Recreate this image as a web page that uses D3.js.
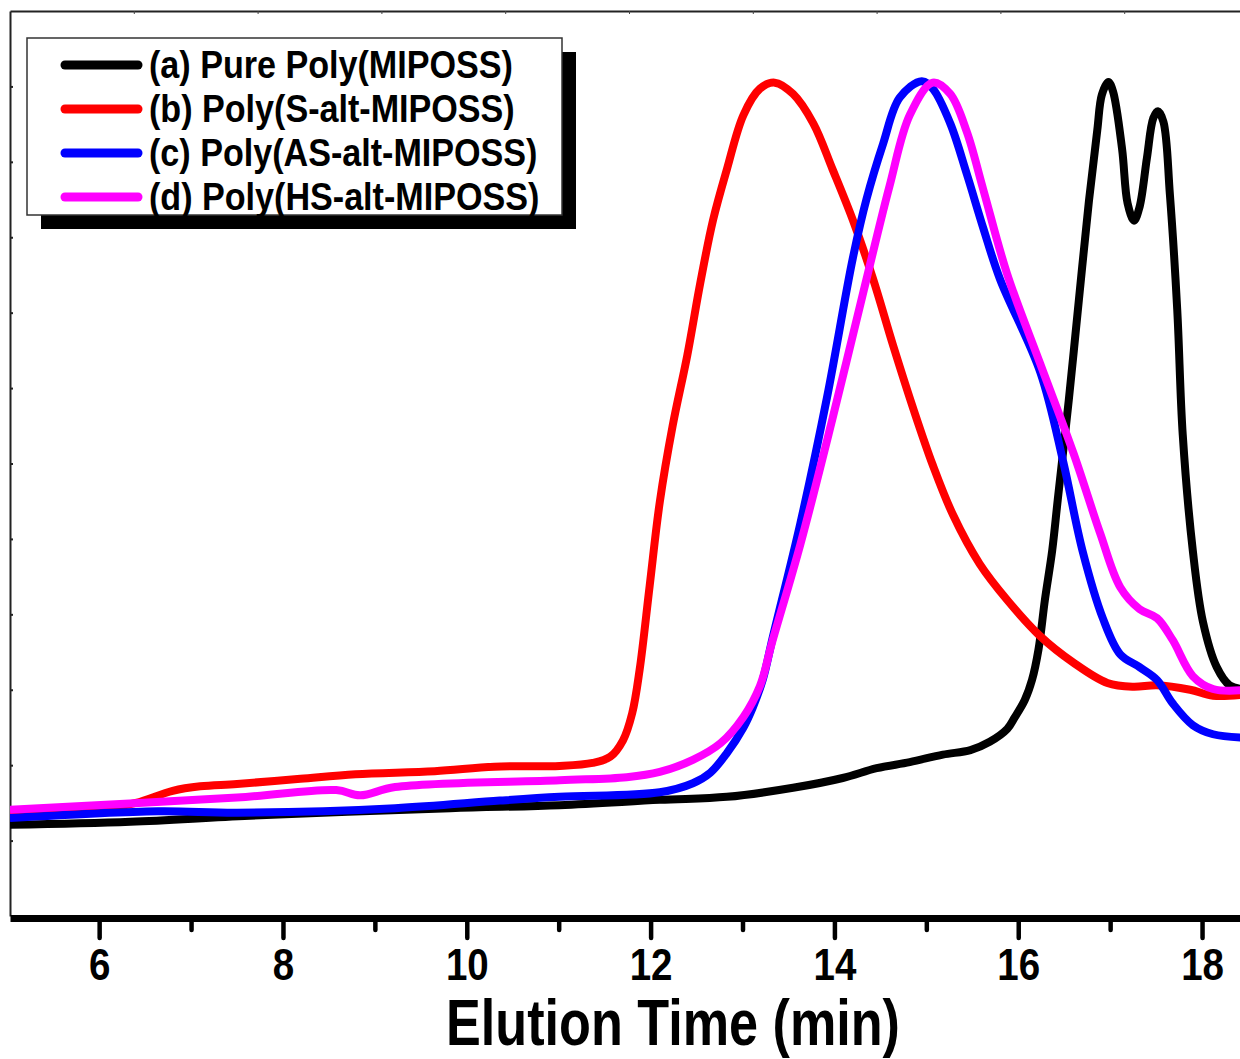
<!DOCTYPE html>
<html>
<head>
<meta charset="utf-8">
<script src="https://cdn.jsdelivr.net/npm/d3@7/dist/d3.min.js"></script>
<style>
  html, body { margin: 0; padding: 0; background: #fff; }
  svg { display: block; }
  text { font-family: "Liberation Sans", Arial, sans-serif; font-weight: bold; fill: #000; }
</style>
</head>
<body>
<div id="chart"></div>
<script>
// GPC traces, elution time (min) vs detector response (a.u.)
const timeA = [5.03, 6.34, 7.64, 9.82, 11.01, 12.10, 12.83, 13.55, 14.09, 14.46, 14.82, 15.18, 15.48, 15.69, 15.88, 15.96, 16.07, 16.15, 16.22, 16.29, 16.37, 16.43, 16.55, 16.66, 16.77, 16.86, 16.91, 16.98, 17.03, 17.13, 17.19, 17.26, 17.32, 17.40, 17.47, 17.52, 17.58, 17.65, 17.73, 17.79, 17.90, 18.01, 18.16, 18.30, 18.50];
const valueA = [1.21, 1.25, 1.33, 1.43, 1.47, 1.54, 1.58, 1.70, 1.83, 1.96, 2.04, 2.14, 2.20, 2.31, 2.48, 2.63, 2.86, 3.13, 3.53, 4.19, 4.85, 5.52, 6.84, 8.17, 9.49, 10.42, 10.89, 11.06, 10.94, 10.17, 9.45, 9.22, 9.40, 10.05, 10.58, 10.67, 10.53, 9.57, 8.04, 6.38, 4.84, 3.90, 3.30, 3.06, 3.00];

const timeB = [5.03, 6.01, 6.40, 6.80, 7.10, 7.50, 8.19, 8.79, 9.65, 10.30, 11.01, 11.37, 11.56, 11.70, 11.80, 11.88, 11.99, 12.10, 12.24, 12.40, 12.54, 12.68, 12.83, 13.01, 13.19, 13.35, 13.55, 13.77, 13.98, 14.20, 14.42, 14.64, 14.86, 15.07, 15.29, 15.58, 15.88, 16.24, 16.60, 16.97, 17.25, 17.51, 17.87, 18.12, 18.50];
const valueB = [1.35, 1.42, 1.50, 1.66, 1.72, 1.75, 1.82, 1.88, 1.92, 1.98, 1.99, 2.03, 2.11, 2.33, 2.69, 3.26, 4.38, 5.49, 6.50, 7.44, 8.39, 9.23, 9.90, 10.62, 10.97, 11.05, 10.90, 10.51, 9.90, 9.23, 8.45, 7.56, 6.72, 5.98, 5.32, 4.67, 4.19, 3.71, 3.36, 3.09, 3.04, 3.06, 3.00, 2.92, 2.94];

const timeC = [5.03, 6.64, 7.50, 9.22, 10.36, 11.01, 12.10, 12.46, 12.65, 12.83, 13.01, 13.11, 13.22, 13.33, 13.63, 13.92, 14.20, 14.35, 14.53, 14.71, 14.95, 15.07, 15.26, 15.44, 15.62, 15.80, 16.24, 16.49, 16.70, 16.92, 17.11, 17.32, 17.51, 17.68, 17.90, 18.12, 18.50];
const valueC = [1.30, 1.39, 1.37, 1.43, 1.53, 1.58, 1.64, 1.76, 1.90, 2.16, 2.50, 2.76, 3.13, 3.70, 5.21, 6.88, 8.72, 9.51, 10.24, 10.85, 11.07, 10.97, 10.51, 9.84, 9.12, 8.45, 7.21, 6.02, 4.84, 3.95, 3.47, 3.30, 3.13, 2.82, 2.53, 2.41, 2.36];

const timeD = [5.03, 7.50, 8.58, 8.84, 9.22, 11.01, 11.74, 12.10, 12.46, 12.76, 13.01, 13.19, 13.32, 13.63, 13.98, 14.35, 14.60, 14.82, 15.07, 15.26, 15.44, 15.62, 15.88, 16.24, 16.60, 16.89, 17.11, 17.32, 17.51, 17.68, 17.90, 18.12, 18.50];
const valueD = [1.41, 1.57, 1.67, 1.60, 1.71, 1.80, 1.84, 1.91, 2.07, 2.29, 2.64, 3.05, 3.62, 4.93, 6.60, 8.45, 9.68, 10.62, 11.05, 10.90, 10.40, 9.63, 8.51, 7.32, 6.14, 5.08, 4.36, 4.07, 3.95, 3.66, 3.18, 3.01, 3.00];

const seriesNames = ['(a) Pure Poly(MIPOSS)', '(b) Poly(S-alt-MIPOSS)', '(c) Poly(AS-alt-MIPOSS)', '(d) Poly(HS-alt-MIPOSS)'];
const majorTicks = [6, 8, 10, 12, 14, 16, 18];
const minorTicks = [7, 9, 11, 13, 15, 17];
const yTicks = [1, 2, 3, 4, 5, 6, 7, 8, 9, 10, 11];

const colors = ['#000000', '#ff0000', '#0000ff', '#ff00ff'];
const squeeze = 0.875;

const width = 1240;
const height = 1059;
const plot = { left: 10, right: 1248, top: 11, bottom: 916 };

const svg = d3.select('#chart')
  .append('svg')
  .attr('width', width)
  .attr('height', height);

const xScale = d3.scaleLinear().domain([5.03, 18.5]).range([plot.left, plot.right]);
const yScale = d3.scaleLinear().domain([0, 12]).range([plot.bottom, plot.top]);

svg.append('clipPath')
  .attr('id', 'plot-clip')
  .append('rect')
  .attr('x', plot.left)
  .attr('y', plot.top)
  .attr('width', plot.right - plot.left)
  .attr('height', plot.bottom - plot.top);

// frame: top + left thin lines with tiny inward ticks
const topScale = d3.scaleLinear().domain([0, 10]).range([plot.left, plot.right]);
svg.append('g')
  .attr('transform', `translate(0,${plot.top})`)
  .call(d3.axisBottom(topScale).tickValues(d3.range(1, 10)).tickSize(3).tickSizeOuter(0).tickFormat(''))
  .call(g => g.select('.domain').attr('stroke', '#222').attr('stroke-width', 2))
  .call(g => g.selectAll('.tick line').attr('stroke', '#444').attr('stroke-width', 1));

svg.append('g')
  .attr('transform', `translate(${plot.left},0)`)
  .call(d3.axisRight(yScale).tickValues(yTicks).tickSize(3).tickSizeOuter(0).tickFormat(''))
  .call(g => g.select('.domain').attr('stroke', '#222').attr('stroke-width', 2))
  .call(g => g.selectAll('.tick line').attr('stroke', '#222').attr('stroke-width', 2));

// traces
const line = d3.line()
  .x(d => xScale(d[0]))
  .y(d => yScale(d[1]))
  .curve(d3.curveCatmullRom.alpha(0.5));

const traces = [
  d3.zip(timeA, valueA),
  d3.zip(timeB, valueB),
  d3.zip(timeC, valueC),
  d3.zip(timeD, valueD)
];

svg.append('g')
  .attr('clip-path', 'url(#plot-clip)')
  .selectAll('path')
  .data(traces)
  .enter()
  .append('path')
  .attr('d', line)
  .attr('fill', 'none')
  .attr('stroke', (d, i) => colors[i])
  .attr('stroke-width', 8)
  .attr('stroke-linejoin', 'round');

// bottom axis
const xAxis = svg.append('g')
  .attr('transform', `translate(0,${plot.bottom + 2})`);

xAxis.call(d3.axisBottom(xScale).tickValues(minorTicks).tickSize(12).tickSizeOuter(0).tickFormat(''))
  .call(g => g.select('.domain').remove());

xAxis.append('g')
  .call(d3.axisBottom(xScale).tickValues(majorTicks).tickSize(20).tickSizeOuter(0).tickFormat(d3.format('d')))
  .call(g => g.select('.domain').attr('stroke', '#000').attr('stroke-width', 7))
  .call(g => g.selectAll('.tick text')
    .attr('y', 62)
    .attr('dy', null)
    .attr('transform', `scale(${squeeze},1)`)
    .style('font-size', '44px'));

xAxis.selectAll('.tick line')
  .attr('stroke', '#000')
  .attr('stroke-width', 4.5)
  .attr('stroke-linecap', 'round');

svg.append('text')
  .attr('transform', `translate(${(plot.left + plot.right) / 2 + 44},1045) scale(0.815,1)`)
  .style('text-anchor', 'middle')
  .style('font-size', '64px')
  .text('Elution Time (min)');

// legend
const legend = svg.append('g')
  .attr('transform', 'translate(27,38)');

legend.append('rect')
  .attr('x', 14)
  .attr('y', 14)
  .attr('width', 535)
  .attr('height', 177)
  .attr('fill', '#000');

legend.append('rect')
  .attr('width', 535)
  .attr('height', 177)
  .attr('fill', '#fff')
  .attr('stroke', '#333')
  .attr('stroke-width', 1.5);

const rows = legend.selectAll('.row')
  .data(seriesNames)
  .enter()
  .append('g')
  .classed('row', true)
  .attr('transform', (d, i) => `translate(0,${27 + i * 44})`);

rows.append('line')
  .attr('x1', 38)
  .attr('x2', 111)
  .attr('stroke', (d, i) => colors[i])
  .attr('stroke-width', 9)
  .attr('stroke-linecap', 'round');

rows.append('text')
  .attr('transform', `translate(122,13) scale(${squeeze},1)`)
  .style('font-size', '39px')
  .text(d => d);
</script>
</body>
</html>
